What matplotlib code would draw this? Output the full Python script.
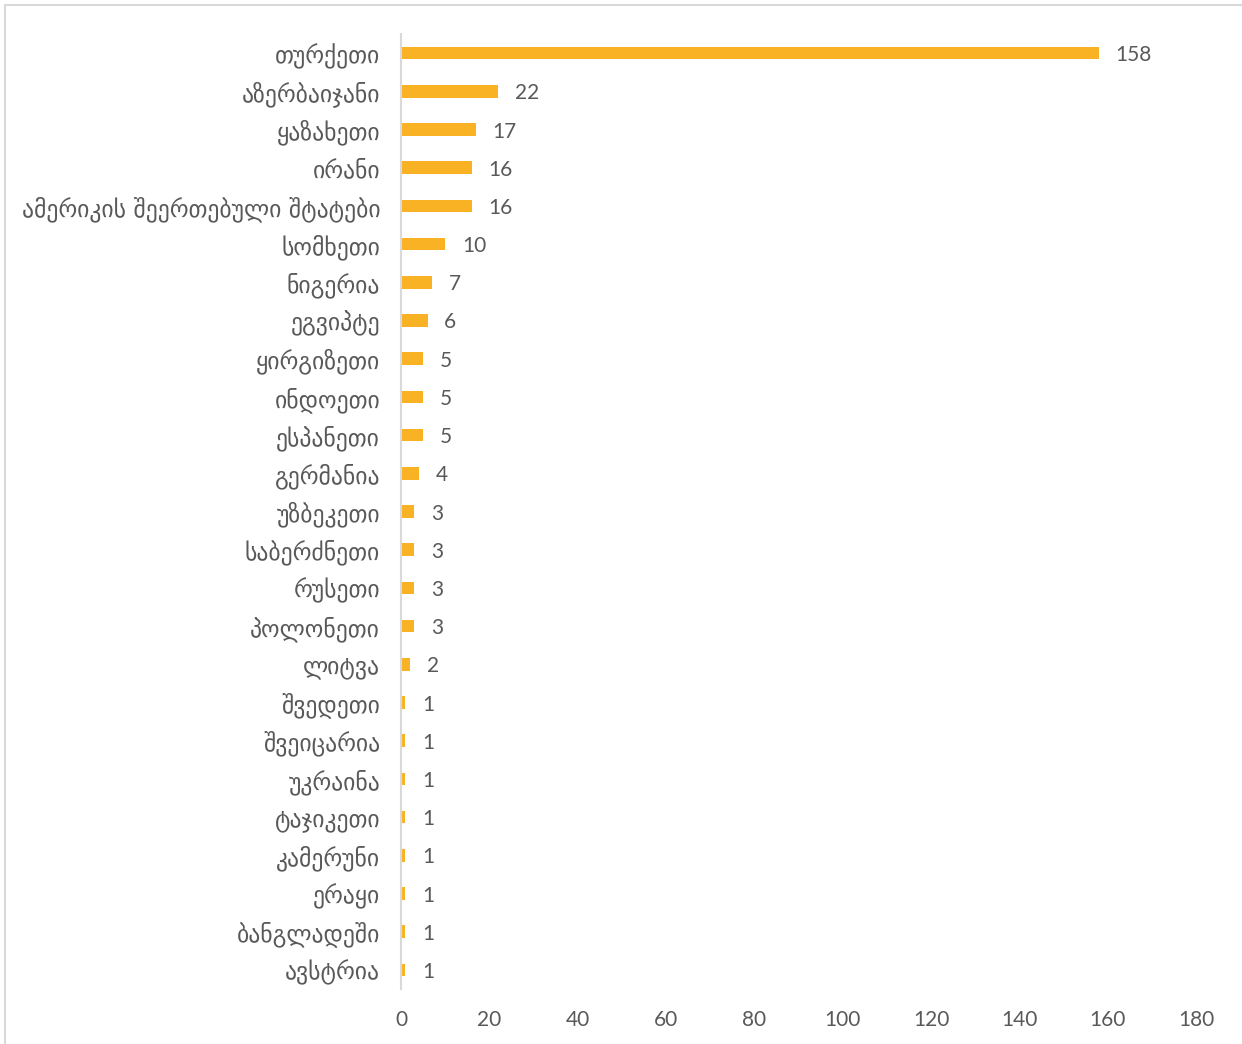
import matplotlib
matplotlib.use("Agg")
import matplotlib.pyplot as plt
from matplotlib.patches import Rectangle

countries = [
    "თურქეთი", "აზერბაიჯანი", "ყაზახეთი", "ირანი",
    "ამერიკის შეერთებული შტატები", "სომხეთი", "ნიგერია", "ეგვიპტე",
    "ყირგიზეთი", "ინდოეთი", "ესპანეთი", "გერმანია", "უზბეკეთი",
    "საბერძნეთი", "რუსეთი", "პოლონეთი", "ლიტვა", "შვედეთი",
    "შვეიცარია", "უკრაინა", "ტაჯიკეთი", "კამერუნი", "ერაყი",
    "ბანგლადეში", "ავსტრია",
]
values = [158, 22, 17, 16, 16, 10, 7, 6, 5, 5, 5, 4, 3, 3, 3, 3, 2,
          1, 1, 1, 1, 1, 1, 1, 1]
xticks = [0, 20, 40, 60, 80, 100, 120, 140, 160, 180]

plt.rcParams['font.family'] = ['Lato', 'DejaVu Sans']
text_color = "#595959"
bar_color = "#F9B224"

W, H = 1242, 1044
fig = plt.figure(figsize=(W / 100, H / 100), dpi=100)
ax = fig.add_axes([401 / W, 1 - 989 / H, (1196 - 401) / W, (989 - 34) / H])

ypos = list(range(len(countries)))
ax.barh(ypos, values, height=0.335, color=bar_color)
ax.set_ylim(len(countries) - 0.5, -0.5)
ax.set_xlim(0, 180)
ax.set_xticks(xticks)
ax.set_xticklabels([str(t) for t in xticks])
ax.set_yticks(ypos)
ax.set_yticklabels(countries, family=['DejaVu Sans'], fontsize=17)

for y, v in zip(ypos, values):
    ax.annotate(str(v), xy=(v, y), xytext=(12, 0), textcoords="offset points",
                ha="left", va="center_baseline", fontsize=15, color=text_color)

for s in ["top", "right", "bottom"]:
    ax.spines[s].set_visible(False)
ax.spines["left"].set_color("#d9d9d9")
ax.spines["left"].set_linewidth(1.5)
ax.tick_params(axis="y", length=0, pad=15, labelcolor=text_color)
ax.tick_params(axis="x", length=0, pad=15, labelsize=15, labelcolor=text_color)

fig.patches.append(Rectangle((5 / W, -0.1), 1.2, 1.1 - 5 / H, transform=fig.transFigure,
                             fill=False, edgecolor="#d9d9d9", linewidth=1.5))

fig.savefig("out.png", dpi=100)
